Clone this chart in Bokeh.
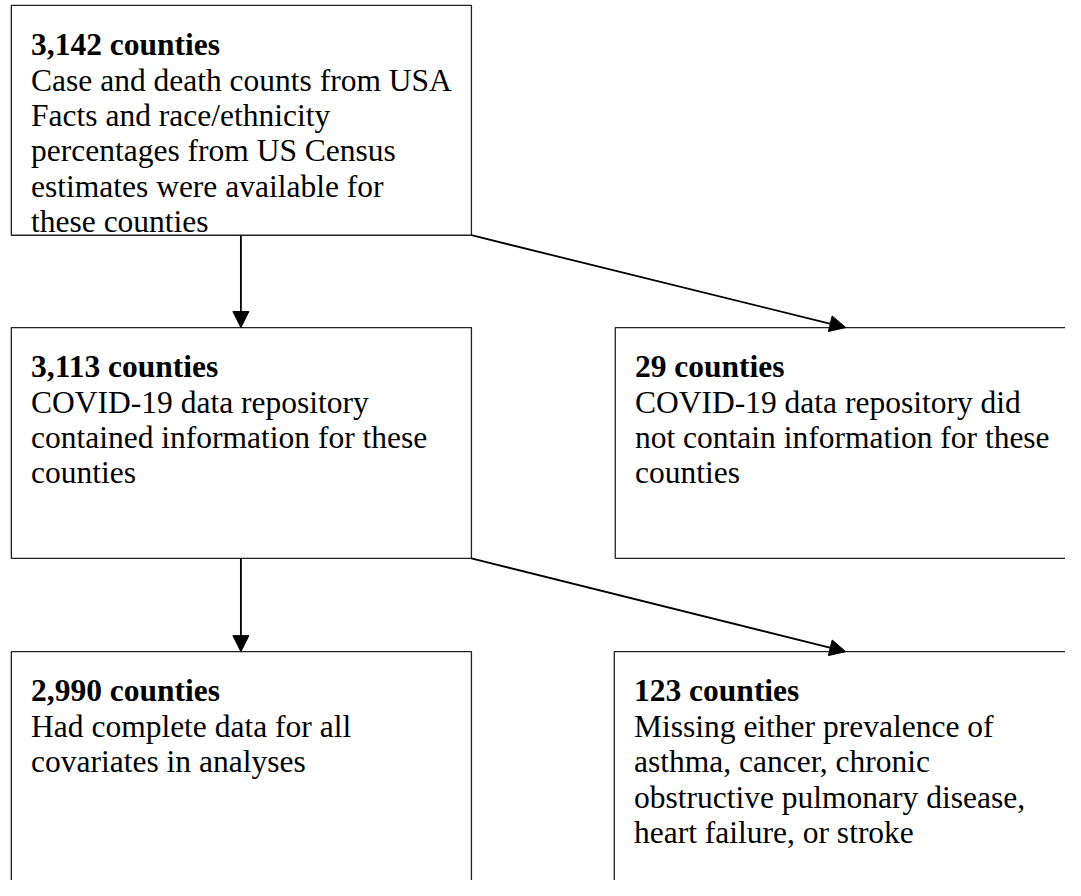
from bokeh.plotting import figure
from bokeh.models import Range1d, Arrow, NormalHead
from bokeh.core.properties import value
from bokeh.embed import file_html
from bokeh.resources import INLINE

# ---- data ----
counts = [3142, 3113, 29, 2990, 123]
titles = [f"{c:,} counties" for c in counts]
descriptions = [
    ["Case and death counts from USA", "Facts and race/ethnicity",
     "percentages from US Census", "estimates were available for",
     "these counties"],
    ["COVID-19 data repository", "contained information for these", "counties"],
    ["COVID-19 data repository did", "not contain information for these", "counties"],
    ["Had complete data for all", "covariates in analyses"],
    ["Missing either prevalence of", "asthma, cancer, chronic",
     "obstructive pulmonary disease,", "heart failure, or stroke"],
]
# flow edges: (from box index, to box index)
edges = [(0, 1), (0, 2), (1, 3), (1, 4)]

# ---- layout (reference-pixel coordinates, 1081 x 896 canvas) ----
W, H = 1065, 880
box_left = [11, 11, 624, 11, 623]
box_right = [478, 478, 1200, 478, 1200]
box_top = [5, 333, 333, 663, 663]
box_bottom = [239, 568, 568, 1000, 1000]

p = figure(width=W, height=H, output_backend="svg", toolbar_location=None,
           x_range=Range1d(0, 1081), y_range=Range1d(896, 0),
           min_border=0, outline_line_color=None)
p.axis.visible = False
p.grid.visible = False
p.background_fill_color = "white"

p.quad(left=box_left, right=box_right, top=box_top, bottom=box_bottom,
       fill_color=None, line_color="#222222", line_width=1.3)

FONT = value("Liberation Serif")
FS = "31.5px"
LH = 36
tx, ty = [], []
for i in range(len(counts)):
    tx.append(box_left[i] + 20)
    ty.append(box_top[i] + 40)
p.text(x=tx, y=ty, text=titles, text_font=FONT, text_font_size=FS,
       text_font_style="bold", text_baseline="alphabetic", text_color="black")

dx, dy, dt = [], [], []
for i, lines in enumerate(descriptions):
    for j, line in enumerate(lines):
        dx.append(box_left[i] + 20)
        dy.append(box_top[i] + 40 + LH * (j + 1))
        dt.append(line)
p.text(x=dx, y=dy, text=dt, text_font=FONT, text_font_size=FS,
       text_baseline="alphabetic", text_color="black")

for a, b in edges:
    if box_left[b] == box_left[a]:
        x0, x1 = 244, 244
    else:
        x0, x1 = box_right[a], 858
    p.add_layout(Arrow(end=NormalHead(size=16, fill_color="black", line_color="black"),
                       x_start=x0, y_start=box_bottom[a], x_end=x1, y_end=box_top[b],
                       line_color="black", line_width=1.8))

open("out.html", "w").write(file_html(p, INLINE))
